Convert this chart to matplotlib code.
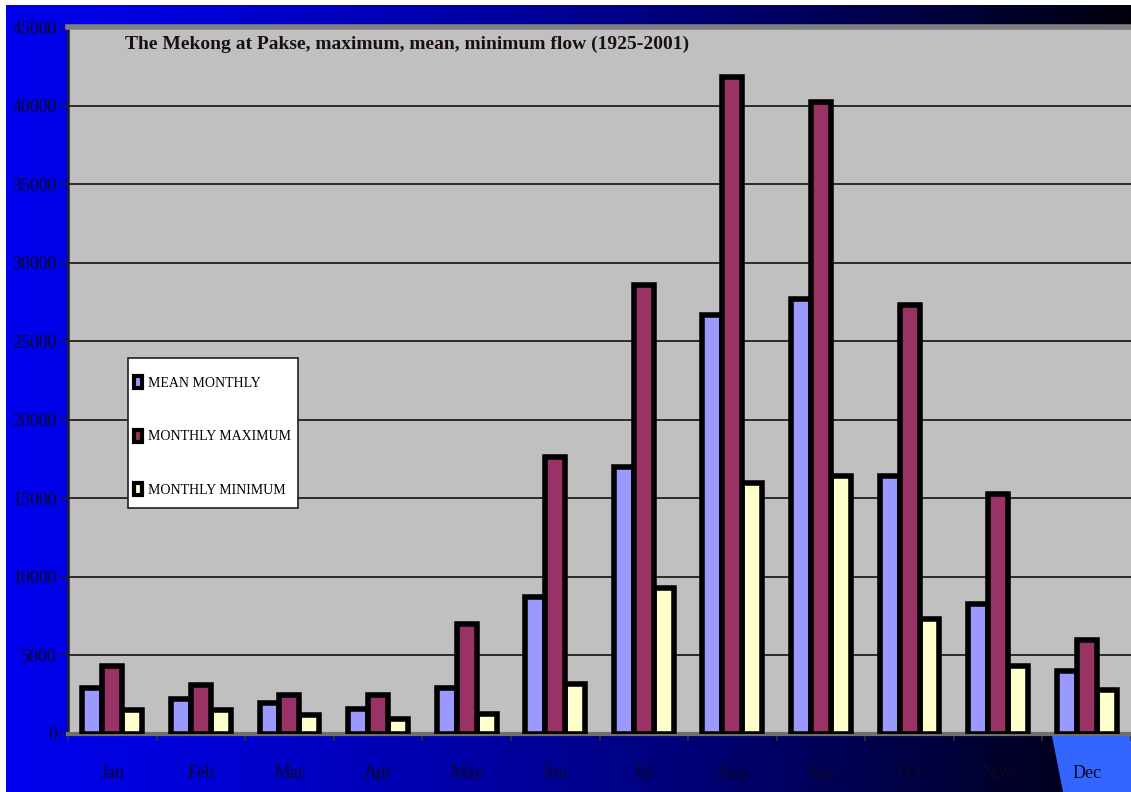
import matplotlib.pyplot as plt
import numpy as np
from matplotlib.patches import Patch, Rectangle, Polygon

plt.rcParams['font.family'] = ['Liberation Serif', 'DejaVu Serif']

# Monthly flow at Pakse (m3/s)
months = ["Jan", "Feb", "Mar", "Apr", "May", "Jun",
          "Jul", "Aug", "Sep", "Oct", "Nov", "Dec"]
mean_monthly = [2900, 2200, 2000, 1600, 2900, 8700,
                17000, 26700, 27700, 16400, 8300, 4000]
monthly_max = [4300, 3100, 2500, 2500, 7000, 17600,
               28600, 41800, 40200, 27300, 15300, 6000]
monthly_min = [1500, 1500, 1200, 950, 1300, 3200,
               9300, 16000, 16400, 7300, 4300, 2800]
series_names = ["MEAN MONTHLY", "MONTHLY MAXIMUM", "MONTHLY MINIMUM"]
series_colors = ["#9999FF", "#993366", "#FFFFCC"]
yticks = [0, 5000, 10000, 15000, 20000, 25000, 30000, 35000, 40000, 45000]
title = "The Mekong at Pakse, maximum, mean, minimum flow (1925-2001)"

W, H = 1131, 792
fig = plt.figure(figsize=(W / 100, H / 100), dpi=100)

# background: blue to black gradient
bg = fig.add_axes([0, 0, 1, 1], zorder=-10)
grad = np.linspace(0, 1, 256)
r = np.zeros_like(grad)
g = np.zeros_like(grad)
b = 0.93 - 0.88 * grad ** 1.3
img = np.dstack([r, g, b])  # shape (1, 256, 3)
bg.imshow(img, aspect='auto', extent=[0, W, 0, H])
bg.add_patch(Polygon([(1052, 56), (W, 56), (W, 0), (1063, 0)],
                     closed=True, color="#3366FF", lw=0))
bg.add_patch(Rectangle((0, H - 5), W, 5, color="white", lw=0))
bg.add_patch(Rectangle((0, 0), 6, H, color="white", lw=0))
bg.set_xlim(0, W)
bg.set_ylim(0, H)
bg.axis('off')

# plot area
ax = fig.add_axes([68 / W, 58 / H, 1 - 68 / W, (734 - 27) / H])
ax.set_facecolor("#C0C0C0")

x = np.arange(len(months))
bw = 0.225
data = [mean_monthly, monthly_max, monthly_min]
for k, (vals, col) in enumerate(zip(data, series_colors)):
    ax.bar(x + (k - 1) * bw, vals, width=bw, color=col,
           edgecolor="black", linewidth=4, zorder=3 + (k == 1))

ax.set_xlim(-0.5, len(months) - 0.5)
ax.set_ylim(0, 45000)
ax.set_yticks(yticks)
ax.set_yticklabels([str(v) for v in yticks], fontsize=13, color="#0a0a20")
ax.yaxis.grid(True, color="#202020", linewidth=1.3, zorder=1)
ax.set_axisbelow(True)

ax.set_xticks(x)
ax.set_xticklabels(months, fontsize=13, color="#0a0a20")
ax.tick_params(axis='x', length=0, pad=22)
ax.set_xticks(np.arange(-0.5, len(months), 1), minor=True)
ax.tick_params(axis='x', which='minor', length=5, width=1.2, color="#303030")
ax.tick_params(axis='y', length=5, width=1.2, color="#202020", pad=3)

ax.spines["right"].set_visible(False)
ax.spines["top"].set_color("#808080")
ax.spines["top"].set_linewidth(4)
ax.spines["left"].set_color("#202020")
ax.spines["left"].set_linewidth(1.8)
ax.spines["bottom"].set_color("#707070")
ax.spines["bottom"].set_linewidth(3)

ax.text(0.0536, 0.976, title, transform=ax.transAxes, fontsize=14,
        fontweight='bold', color="#1a1010", ha='left', va='center')

# legend box drawn by hand, entries from legend()
ax.add_patch(Rectangle((0.0564, 0.3197), 0.16, 0.2121, transform=ax.transAxes,
                       facecolor="white", edgecolor="#202020", lw=1.2, zorder=9))
handles = [Patch(facecolor=c, edgecolor="black", linewidth=3) for c in series_colors]
leg = ax.legend(handles, series_names, loc='upper left',
                bbox_to_anchor=(0.0625, 0.506), fontsize=10,
                frameon=False, handlelength=0.55, handleheight=0.95,
                handletextpad=0.45, labelspacing=2.85, borderpad=0,
                borderaxespad=0)
leg.set_zorder(10)

fig.savefig("out.png", dpi=100)
